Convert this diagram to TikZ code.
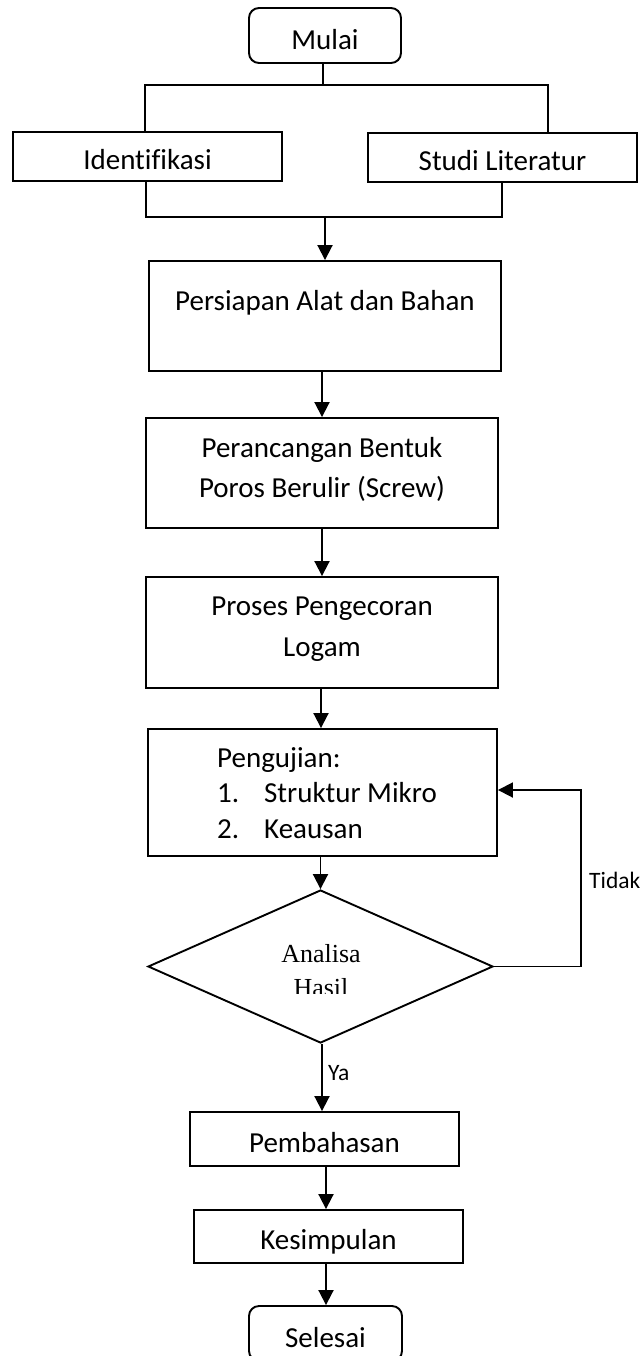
\documentclass[tikz,border=0pt]{standalone}
\usepackage{fontspec}
\setmainfont{Carlito}[Ligatures={NoCommon}]
\newfontfamily\timesf{Liberation Serif}
\usetikzlibrary{arrows.meta,shapes.geometric}
\tikzset{
  procbox/.style={draw, line width=1.9pt, inner sep=0pt, align=center,
    font=\fontsize{29}{40}\selectfont},
  termbox/.style={procbox, rounded corners=10pt},
  decbox/.style={draw, line width=1.9pt, shape=diamond, inner sep=0pt,
    minimum width=345pt, minimum height=153pt, aspect=2.25},
  ln/.style={line width=1.9pt},
  arr/.style={line width=1.9pt, -{Triangle[length=15pt,width=15pt]}},
  lbl/.style={inner sep=0pt, anchor=west, font=\fontsize{23.5}{28}\selectfont}
}
\begin{document}
\begin{tikzpicture}[x=1pt,y=-1pt]
\useasboundingbox (0,0) rectangle (644,1356);
\fill[white] (0,0) rectangle (644,1356);

% nodes
\node[termbox, minimum width=152pt, minimum height=55pt, text height=29pt, text depth=0pt] (mulai) at (325,35.5) {Mulai};
\node[procbox, minimum width=269pt, minimum height=49pt, text height=27pt, text depth=0pt] (ident) at (147.5,156.5) {Identifikasi};
\node[procbox, minimum width=269pt, minimum height=49pt, text height=27pt, text depth=0pt] (studi) at (502.5,157.5) {Studi Literatur};
\node[procbox, minimum width=352pt, minimum height=110pt, text height=27pt, text depth=39pt] (pers) at (325,316) {Persiapan Alat dan Bahan};
\node[procbox, minimum width=352pt, minimum height=110pt, text height=48pt, text depth=0pt] (peranc) at (322,473) {Perancangan Bentuk\\Poros Berulir (Screw)};
\node[procbox, minimum width=352pt, minimum height=111pt, text height=48pt, text depth=0pt, font=\fontsize{29}{41}\selectfont] (proses) at (322,632.5) {Proses Pengecoran\\Logam};
\node[procbox, minimum width=349pt, minimum height=127pt, text height=91pt, text depth=0pt, align=left, font=\fontsize{29}{35.5}\selectfont] (peng) at (322.5,792.5)
  {\hspace*{9pt}Pengujian:\\\hspace*{9pt}\makebox[47pt][l]{1.}Struktur Mikro\\\hspace*{9pt}\makebox[47pt][l]{2.}Keausan};
\node[decbox] (dec) at (320.5,966.5) {};
\begin{scope}
  \clip (100,880) rectangle (540,993);
  \node[inner sep=0pt, align=center, font=\timesf\fontsize{26}{34}\selectfont] (dectext) at (321,971) {Analisa\\Hasil};
\end{scope}
\node[procbox, minimum width=269pt, minimum height=54pt, text height=26pt, text depth=0pt] (pemb) at (324.5,1139) {Pembahasan};
\node[procbox, minimum width=269pt, minimum height=53pt, text height=25pt, text depth=0pt] (kesim) at (328.5,1236.5) {Kesimpulan};
\node[termbox, minimum width=153pt, minimum height=55pt, text height=27pt, text depth=0pt] (selesai) at (325.5,1333.5) {Selesai};

% labels
\node[lbl] (tidak) at (589,880) {Tidak};
\node[lbl] (ya) at (328,1073) {Ya};

% bracket coordinates
\coordinate (tj) at (323,85);
\coordinate (tl) at (145,85);
\coordinate (tr) at (548,85);
\coordinate (bl) at (146,217);
\coordinate (br) at (502,217);
\coordinate (bm) at (325,217);
\coordinate (lp1) at (581,966.5);
\coordinate (lp2) at (581,790);

% connectors
\draw[ln] (mulai.south -| tj) -- (tj);
\draw[ln] (ident.north -| tl) -- (tl) -- (tr) -- (studi.north -| tr);
\draw[ln] (ident.south -| bl) -- (bl) -- (br) -- (studi.south -| br);
\draw[arr] (bm) -- (pers.north -| bm);
\draw[arr] (pers.south -| peranc.north) -- (peranc.north);
\draw[arr] (peranc.south) -- (proses.north);
\draw[arr] (proses.south -| 321,0) -- (peng.north -| 321,0);
\draw[arr] (peng.south -| dec.north) -- (dec.north);
\draw[arr] (dec.south -| 322,0) -- (pemb.north -| 322,0);
\draw[arr] (pemb.south -| 326,0) -- (kesim.north -| 326,0);
\draw[arr] (kesim.south -| 326,0) -- (selesai.north -| 326,0);
\draw[arr] (dec.east) -- (lp1) -- (lp2) -- (peng.east |- lp2);
\end{tikzpicture}
\end{document}
